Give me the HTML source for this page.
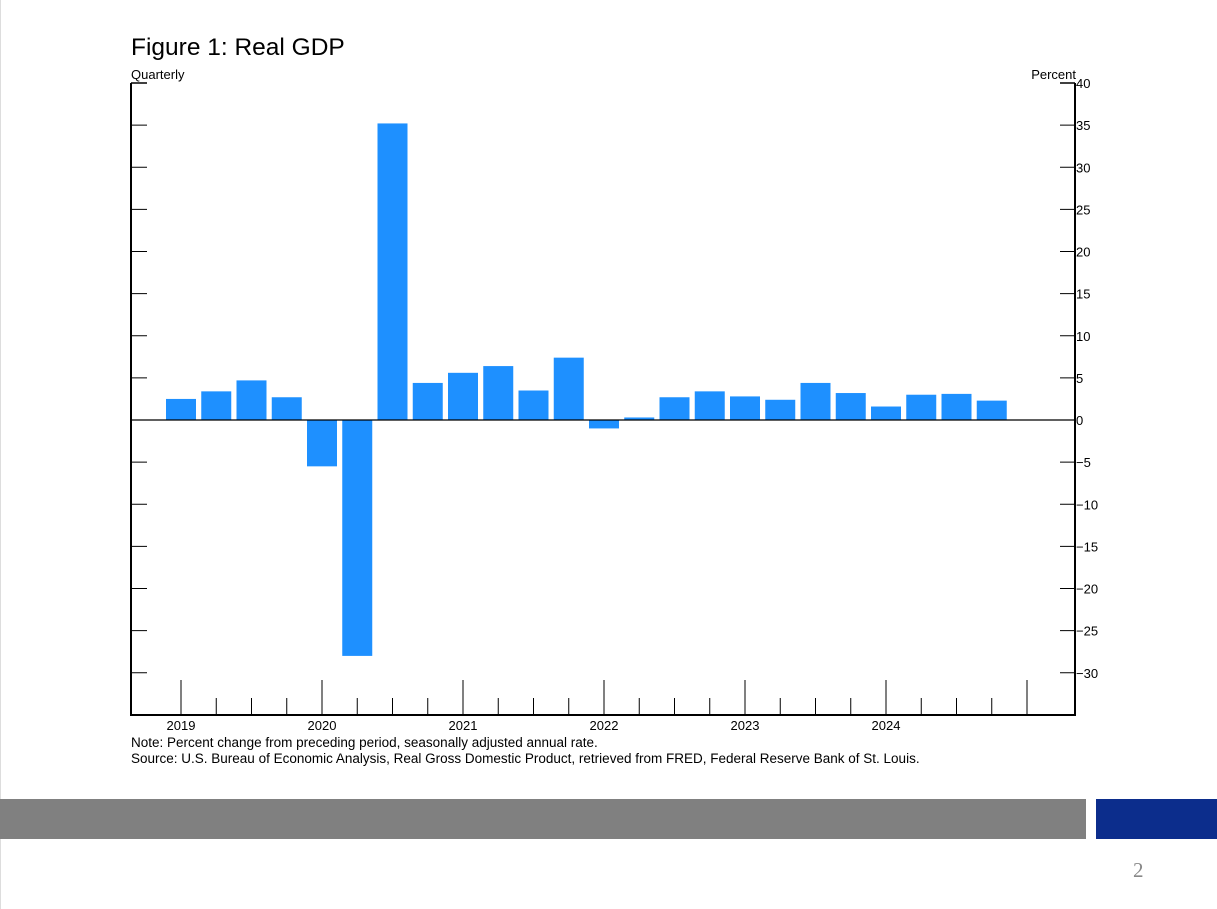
<!DOCTYPE html>
<html><head><meta charset="utf-8"><style>
body{margin:0;width:1217px;height:909px;background:#fff;overflow:hidden;position:relative;font-family:"Liberation Sans",sans-serif}
</style></head><body>
<svg width="1217" height="909" style="position:absolute;left:0;top:0">
<line x1="0.5" y1="0" x2="0.5" y2="909" stroke="#ddd"/>
<text x="131" y="55" font-size="24.5" fill="#000">Figure 1: Real GDP</text>
<text x="131" y="79" font-size="13">Quarterly</text>
<text x="1076" y="79" font-size="13" text-anchor="end">Percent</text>
<g id="plot"></g>
<text x="131" y="747" font-size="13.5">Note: Percent change from preceding period, seasonally adjusted annual rate.</text>
<text x="131" y="763" font-size="13.5">Source: U.S. Bureau of Economic Analysis, Real Gross Domestic Product, retrieved from FRED, Federal Reserve Bank of St. Louis.</text>
<rect x="0" y="799" width="1086" height="40" fill="#808080"/>
<rect x="1096" y="799" width="121" height="40" fill="#0c2d8c"/>
<text x="1133" y="877" font-size="21" fill="#888" font-family="Liberation Serif,serif">2</text>
</svg>
<script>
const quarters=["2019Q1","2019Q2","2019Q3","2019Q4","2020Q1","2020Q2","2020Q3","2020Q4","2021Q1","2021Q2","2021Q3","2021Q4","2022Q1","2022Q2","2022Q3","2022Q4","2023Q1","2023Q2","2023Q3","2023Q4","2024Q1","2024Q2","2024Q3","2024Q4"];
const gdpGrowth=[2.5,3.4,4.7,2.7,-5.5,-28.0,35.2,4.4,5.6,6.4,3.5,7.4,-1.0,0.3,2.7,3.4,2.8,2.4,4.4,3.2,1.6,3.0,3.1,2.3];
const yTicks=[40,35,30,25,20,15,10,5,0,-5,-10,-15,-20,-25,-30];
const yearLabels=["2019","2020","2021","2022","2023","2024"];
const NS="http://www.w3.org/2000/svg";
const g=document.getElementById('plot');
const L=131,R=1075,T=83,B=715;
const y=v=>420-v*8.425;
const x=i=>181+i*35.25;
function mk(t,a){const e=document.createElementNS(NS,t);for(const k in a)e.setAttribute(k,a[k]);g.appendChild(e);return e;}
quarters.forEach((q,i)=>{const v=gdpGrowth[i];
const r=mk('rect',{x:x(i)-15,y:Math.min(y(v),y(0)),width:30,height:Math.abs(y(v)-y(0)),fill:'#1e90ff'});

});
const z=mk('line',{x1:L,x2:R,y1:y(0),y2:y(0),stroke:'#000','stroke-width':1.2});


yTicks.forEach(v=>{
if(v!==0){const a=mk('line',{x1:L,x2:L+16,y1:y(v),y2:y(v),stroke:'#000','stroke-width':v===40?1.5:1});

}
const b=mk('line',{x1:R-15,x2:R,y1:y(v),y2:y(v),stroke:'#000','stroke-width':v===40?1.5:1});


const t=mk('text',{x:R+1,y:y(v)+5,'font-size':13});t.textContent=v<0?'\u2212'+(-v):v;

});
for(let i=0;i<=quarters.length;i++){const major=i%4===0;
const l=mk('line',{x1:x(i),x2:x(i),y1:major?680:698,y2:B,stroke:'#000'});

}
yearLabels.forEach((yr,j)=>{const t=mk('text',{x:x(j*4),y:730,'font-size':13,'text-anchor':'middle'});t.textContent=yr;

});
const f=mk('path',{d:`M${L},${T} V${B} H${R} V${T}`,fill:'none',stroke:'#000','stroke-width':2});


</script>
</body></html>
